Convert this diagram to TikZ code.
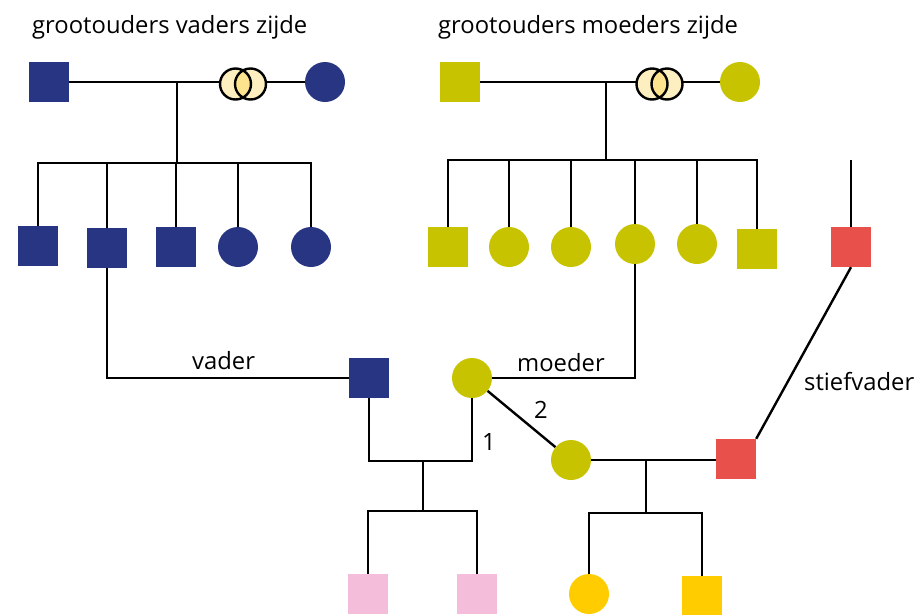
\documentclass[tikz,border=0pt]{standalone}
\usepackage{fontspec}
\setmainfont{Open Sans}
\definecolor{navy}{HTML}{283583}
\definecolor{olive}{HTML}{C8C300}
\definecolor{redc}{HTML}{E8504B}
\definecolor{pinkc}{HTML}{F4BDDA}
\definecolor{gold}{HTML}{FFCC00}
\definecolor{ringl}{HTML}{FDEFBF}
\definecolor{ringd}{HTML}{FDE38E}
\begin{document}
\begin{tikzpicture}[x=1pt,y=-1pt,
  sq/.style={rectangle,minimum size=40,inner sep=0,fill=#1},
  ci/.style={circle,minimum size=40,inner sep=0,fill=#1},
  ln/.style={line width=2.4,line join=miter},
  lbl/.style={font=\fontsize{23.8}{27}\selectfont,inner sep=0,anchor=base west},
  ring/.pic={
    \fill[ringl] (-7.5,0) circle (15.5);
    \fill[ringl] (7.5,0) circle (15.5);
    \begin{scope}\clip (-7.5,0) circle (15.5);\fill[ringd] (7.5,0) circle (15.5);\end{scope}
    \draw[line width=2.4] (-7.5,0) circle (15.5) (7.5,0) circle (15.5);
  }]
\useasboundingbox (0,0) rectangle (919,614);
\clip (0,0) rectangle (919,614);
% titles
\node[lbl] (t1) at (32,33) {grootouders vaders zijde};
\node[lbl] (t2) at (438,33) {grootouders moeders zijde};
% grandparents father side
\node[sq=navy] (pgf) at (49,82) {};
\node[ci=navy] (pgm) at (325,82) {};
\coordinate (pj) at (177,82);
\coordinate (pb) at (177,163);
\draw[ln] (pgf) -- (pgm);
\pic at (243,84) {ring};
\draw[ln] (pj) -- (pb);
\node[sq=navy] (a1) at (38,246) {};
\node[sq=navy] (a2) at (107,248) {};
\node[sq=navy] (a3) at (176,247) {};
\node[ci=navy] (a4) at (238,247) {};
\node[ci=navy] (a5) at (311,247) {};
\draw[ln] (a1.north) |- (pb) -| (a5.north);
\draw[ln] (a2.north) -- (a2.north |- pb);
\draw[ln] (a3.north) -- (a3.north |- pb);
\draw[ln] (a4.north) -- (a4.north |- pb);
% grandparents mother side
\node[sq=olive] (mgf) at (460,82) {};
\node[ci=olive] (mgm) at (740,82) {};
\coordinate (mj) at (606,82);
\coordinate (mb) at (606,160);
\draw[ln] (mgf) -- (mgm);
\pic at (659.5,84) {ring};
\draw[ln] (mj) -- (mb);
\node[sq=olive] (b1) at (448,247) {};
\node[ci=olive] (b2) at (509,247) {};
\node[ci=olive] (b3) at (571,247) {};
\node[ci=olive] (b4) at (635,244) {};
\node[ci=olive] (b5) at (697,244) {};
\node[sq=olive] (b6) at (757,249) {};
\draw[ln] (b1.north) |- (mb) -| (b6.north);
\draw[ln] (b2.north) -- (b2.north |- mb);
\draw[ln] (b3.north) -- (b3.north |- mb);
\draw[ln] (b4.north) -- (b4.north |- mb);
\draw[ln] (b5.north) -- (b5.north |- mb);
% stepfather's parent line
\node[sq=redc] (sp) at (851,247) {};
\coordinate (spt) at (851,160);
\draw[ln] (spt) -- (sp.north);
% parents
\node[sq=navy] (fa) at (369,378) {};
\node[ci=olive] (mo) at (472,378) {};
\draw[ln] (a2.south) |- (fa.west);
\draw[ln] (mo.east) -| (b4.south);
\node[lbl] (lv) at (192,369) {vader};
\node[lbl] (lm) at (517,371) {moeder};
\coordinate (u1) at (423,461);
\draw[ln] (fa.south) |- (u1) -| (mo.south);
\node[lbl] (l1) at (482,450) {1};
\node[ci=olive] (mo2) at (571,460) {};
\draw[ln] (mo) -- (mo2);
\node[lbl] (l2) at (534,418) {2};
\node[sq=redc] (st) at (736,459) {};
\draw[ln] (mo2.east) -- (mo2.east -| st.west);
\draw[ln] (sp.south) -- (st.north east);
\node[lbl] (ls) at (804,390) {stiefvader};
\coordinate (u2) at (646,460);
% children
\node[sq=pinkc] (c1) at (368,594) {};
\node[sq=pinkc] (c2) at (477,594) {};
\node[ci=gold] (c3) at (589,594) {};
\node[sq=gold] (c4) at (702,596) {};
\coordinate (k1) at (423,511);
\coordinate (k2) at (646,513);
\draw[ln] (u1) -- (k1);
\draw[ln] (c1.north) |- (k1) -| (c2.north);
\draw[ln] (u2) -- (k2);
\draw[ln] (c3.north) |- (k2) -| (c4.north);
\end{tikzpicture}
\end{document}
